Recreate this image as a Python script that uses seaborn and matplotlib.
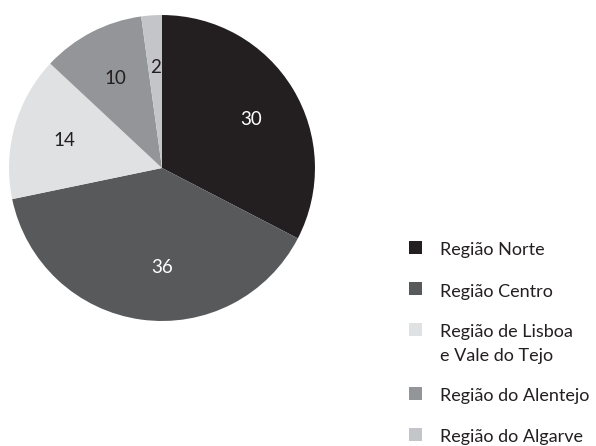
import matplotlib
matplotlib.use("Agg")
import matplotlib.pyplot as plt
from matplotlib.patches import Rectangle
from matplotlib.transforms import Affine2D
import seaborn as sns

regions = ["Região Norte", "Região Centro", "Região de Lisboa\ne Vale do Tejo",
           "Região do Alentejo", "Região do Algarve"]
values = [30, 36, 14, 10, 2]
colors = ["#231f20", "#58595b", "#e0e1e3", "#939598", "#c4c5c8"]
label_colors = ["white", "white", "#231f20", "#231f20", "#231f20"]

sns.set_theme(style="white")
plt.rcParams["font.family"] = ["Lato", "DejaVu Sans"]

W, H = 596, 446
fig = plt.figure(figsize=(W / 100, H / 100), dpi=100)
ax = fig.add_axes([0.0151, 0.2803, 0.5134, 0.686])

wedges, texts, autotexts = ax.pie(
    values, colors=colors, startangle=90, counterclock=False,
    autopct=lambda p: "", pctdistance=0.66,
    wedgeprops=dict(linewidth=0))
for t, v, c in zip(autotexts, values, label_colors):
    t.set_text(str(v))
    t.set_color(c)
    t.set_fontsize(13.5)
# small nudges of the two large-slice labels, as in the original layout
autotexts[0].set_position((0.58, 0.315))
autotexts[1].set_position((0.0, -0.65))
ax.set_xlim(-1, 1)
ax.set_ylim(-1, 1)
ax.set_aspect("equal")
ax.axis("off")

# legend drawn in pixel coordinates (top-left origin)
px = Affine2D().scale(1 / W, -1 / H).translate(0, 1) + fig.transFigure
y = 247.5
for lab, c in zip(regions, colors):
    nl = lab.count("\n") + 1
    fig.add_artist(Rectangle((409, y - 6.5), 13, 13, transform=px,
                             facecolor=c, edgecolor="none"))
    fig.text(440, y + 8 + 24 * (nl - 1), lab, transform=px, fontsize=13,
             color="#231f20", va="baseline", linespacing=1.63)
    y += 41 + 22.5 * (nl - 1)

fig.savefig("out.png", dpi=100)
